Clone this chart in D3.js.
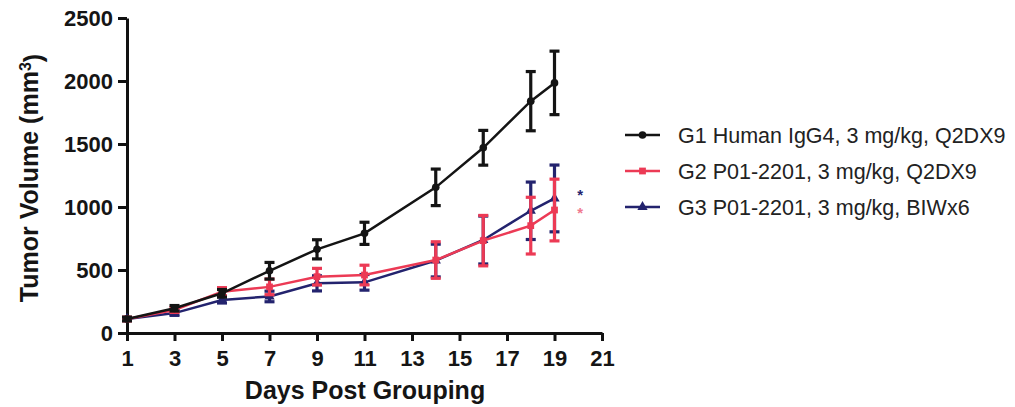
<!DOCTYPE html>
<html>
<head>
<meta charset="utf-8">
<script src="https://cdn.jsdelivr.net/npm/d3@7"></script>
<style>
  html, body { margin: 0; padding: 0; background: #fff; }
  svg { display: block; font-family: "Liberation Sans", Arial, Helvetica, sans-serif; }
</style>
</head>
<body>
<svg id="chart" width="1015" height="407"></svg>
<script>
// Tumor growth: mean ± SEM per group
const days = [1, 3, 5, 7, 9, 11, 14, 16, 18, 19];

const g1Mean = [111, 196, 315, 494, 664, 791, 1156, 1470, 1840, 1985];
const g1Sem  = [15, 22, 30, 66, 76, 88, 145, 138, 235, 252];

const g2Mean = [111, 183, 328, 366, 447, 460, 579, 733, 852, 976];
const g2Sem  = [14, 20, 32, 62, 66, 78, 145, 200, 225, 245];

const g3Mean = [111, 158, 262, 290, 394, 402, 575, 738, 970, 1068];
const g3Sem  = [12, 18, 24, 42, 60, 62, 130, 190, 228, 265];

const seriesNames = [
  "G1 Human IgG4, 3 mg/kg, Q2DX9",
  "G2 P01-2201, 3 mg/kg, Q2DX9",
  "G3 P01-2201, 3 mg/kg, BIWx6"
];
const seriesColors = ["#141414", "#ec3a55", "#23236e"];
const seriesShapes = [d3.symbolCircle, d3.symbolSquare, d3.symbolTriangle];

const xTicks = [1, 3, 5, 7, 9, 11, 13, 15, 17, 19, 21];
const yTicks = [0, 500, 1000, 1500, 2000, 2500];

// significance markers placed after the last time point
const starDay = 20;
const starValues = [1120, 980];
const starColors = ["#23236e", "#f07a90"];

const svg = d3.select("#chart");

const x = d3.scaleLinear().domain([1, 21]).range([127, 602]);
const y = d3.scaleLinear().domain([0, 2500]).range([333, 18]);

// axes
const xAxis = svg.append("g")
  .attr("transform", `translate(0,${y(0)})`)
  .call(d3.axisBottom(x).tickValues(xTicks).tickFormat(d3.format("d"))
    .tickSize(8).tickSizeOuter(0).tickPadding(6));
const yAxis = svg.append("g")
  .attr("transform", `translate(${x(1)},0)`)
  .call(d3.axisLeft(y).tickValues(yTicks).tickFormat(d3.format("d"))
    .tickSize(9).tickSizeOuter(0).tickPadding(5));

[xAxis, yAxis].forEach(g => {
  g.select(".domain").attr("stroke", "#111").attr("stroke-width", 3);
  g.selectAll(".tick line").attr("stroke", "#111").attr("stroke-width", 3);
  g.selectAll(".tick text")
    .attr("fill", "#151515")
    .style("font-size", "22px")
    .style("font-weight", "bold");
});
xAxis.selectAll(".tick text").attr("dy", "0.85em");
yAxis.selectAll(".tick text").attr("dy", "0.36em");

// axis titles
svg.append("text")
  .attr("x", 365).attr("y", 399)
  .attr("text-anchor", "middle")
  .attr("fill", "#151515")
  .style("font-size", "25px").style("font-weight", "bold")
  .text("Days Post Grouping");

const yTitle = svg.append("text")
  .attr("transform", `translate(38,178) rotate(-90)`)
  .attr("text-anchor", "middle")
  .attr("fill", "#151515")
  .style("font-size", "25px").style("font-weight", "bold");
yTitle.append("tspan").text("Tumor Volume (mm");
yTitle.append("tspan").attr("dy", "-0.45em").style("font-size", "16px").text("3");
yTitle.append("tspan").attr("dy", "0.45em").text(")");

const groups = [
  { mean: g1Mean, sem: g1Sem },
  { mean: g2Mean, sem: g2Sem },
  { mean: g3Mean, sem: g3Sem }
];

const line = d3.line().x(d => x(d.day)).y(d => y(d.v));
const capHalf = 5;

// draw later groups first so G1 sits on top, then G2 above G3
[2, 1, 0].forEach(i => {
  const g = groups[i];
  const color = seriesColors[i];
  const pts = days.map((d, k) => ({ day: d, v: g.mean[k], e: g.sem[k] }));
  const layer = svg.append("g");

  // error bars
  const eb = layer.selectAll("g.eb").data(pts).join("g");
  eb.append("line")
    .attr("x1", d => x(d.day)).attr("x2", d => x(d.day))
    .attr("y1", d => y(d.v - d.e)).attr("y2", d => y(d.v + d.e))
    .attr("stroke", color).attr("stroke-width", 3.2);
  eb.append("line")
    .attr("x1", d => x(d.day) - capHalf).attr("x2", d => x(d.day) + capHalf)
    .attr("y1", d => y(d.v + d.e)).attr("y2", d => y(d.v + d.e))
    .attr("stroke", color).attr("stroke-width", 3.2);
  eb.append("line")
    .attr("x1", d => x(d.day) - capHalf).attr("x2", d => x(d.day) + capHalf)
    .attr("y1", d => y(d.v - d.e)).attr("y2", d => y(d.v - d.e))
    .attr("stroke", color).attr("stroke-width", 3.2);

  // mean line
  layer.append("path")
    .datum(pts)
    .attr("d", line)
    .attr("fill", "none")
    .attr("stroke", color)
    .attr("stroke-width", 2.5);

  // markers
  layer.selectAll("path.m").data(pts).join("path")
    .attr("transform", d => `translate(${x(d.day)},${y(d.v)})`)
    .attr("d", d3.symbol().type(seriesShapes[i]).size(46))
    .attr("fill", color);
});

// significance asterisks
svg.selectAll("text.star").data(starValues).join("text")
  .attr("x", x(starDay) + 2)
  .attr("y", d => y(d) + 8)
  .attr("text-anchor", "middle")
  .attr("fill", (d, i) => starColors[i])
  .style("font-size", "15px")
  .style("font-weight", "bold")
  .text("*");

// legend
const legend = svg.append("g");
const legendRows = [135, 171, 207];
seriesNames.forEach((name, i) => {
  const row = legend.append("g").attr("transform", `translate(0,${legendRows[i]})`);
  row.append("line")
    .attr("x1", 625).attr("x2", 660)
    .attr("stroke", seriesColors[i]).attr("stroke-width", 2.5);
  row.append("path")
    .attr("transform", "translate(642.5,0)")
    .attr("d", d3.symbol().type(seriesShapes[i]).size(46))
    .attr("fill", seriesColors[i]);
  row.append("text")
    .attr("x", 678).attr("y", 0).attr("dy", "0.35em")
    .attr("fill", "#222")
    .style("font-size", "21.5px")
    .text(name);
});
</script>
</body>
</html>
